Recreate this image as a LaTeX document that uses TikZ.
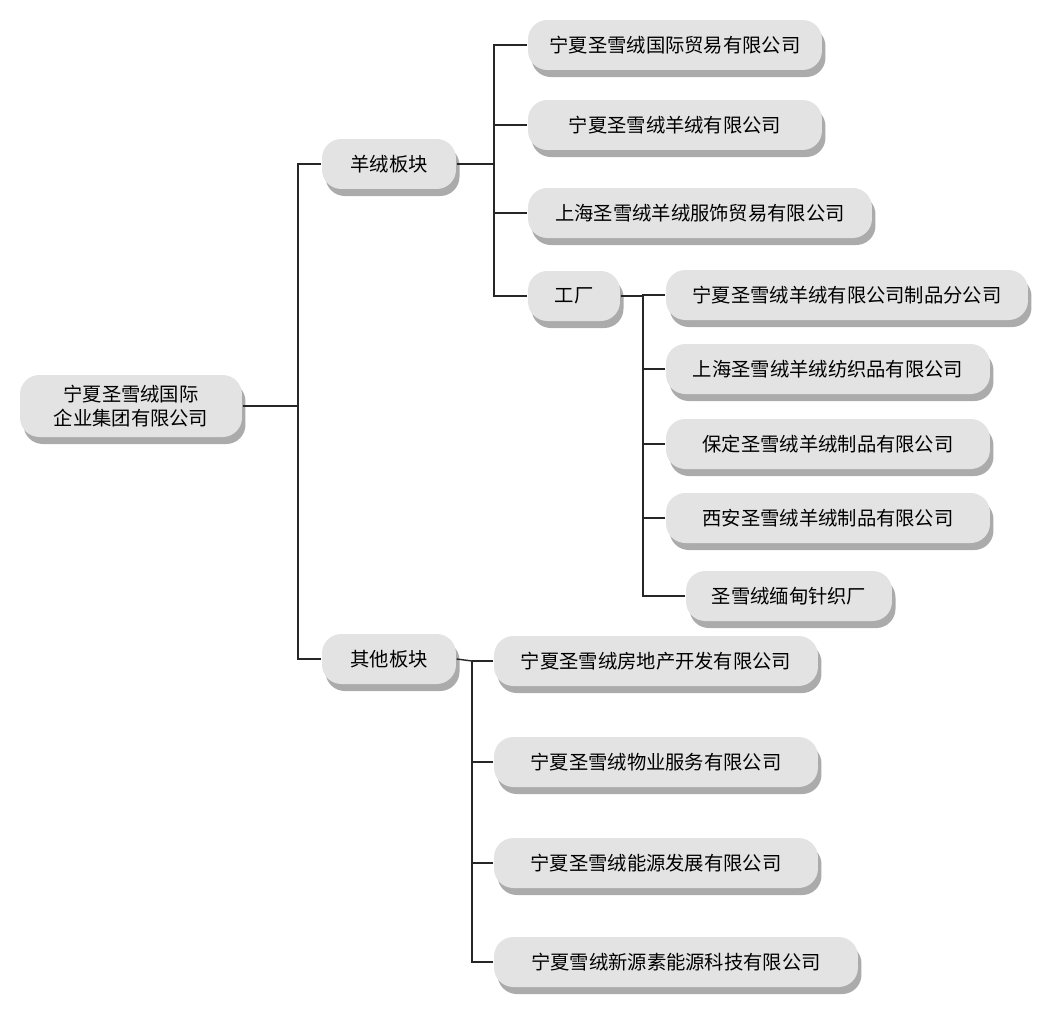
\documentclass[tikz,border=0pt]{standalone}
\usepackage{fontspec}
\setmainfont{Noto Sans CJK SC}
\usetikzlibrary{shadows}

\begin{document}
\begin{tikzpicture}[x=0.02cm, y=-0.02cm, thick,
    box/.style = {rounded corners=11pt, fill=gray!22, minimum height=1cm, inner sep=2pt,
        font=\fontsize{11pt}{14pt}\selectfont, align=center,
        drop shadow={shadow xshift=2pt, shadow yshift=-4pt, fill=black!55, opacity=0.6}},
    link/.style = {draw=black!85, line width=0.8pt}]
    \useasboundingbox (0,0) rectangle (1051,1011);
    % Nodes

    \node[box, minimum width=4.44cm, minimum height=1.24cm] (root) at (131,406) {宁夏圣雪绒国际\\企业集团有限公司};

    \node[box, minimum width=2.68cm] (wool) at (389,164) {羊绒板块};
    \node[box, minimum width=2.68cm] (other) at (389,659) {其他板块};

    \node[box, minimum width=5.88cm] (w1) at (675,45) {宁夏圣雪绒国际贸易有限公司};
    \node[box, minimum width=5.88cm] (w2) at (675,125) {宁夏圣雪绒羊绒有限公司};
    \node[box, minimum width=6.88cm] (w3) at (700,213) {上海圣雪绒羊绒服饰贸易有限公司};
    \node[box, minimum width=1.84cm] (fac) at (574,296) {工厂};

    \node[box, minimum width=7.24cm] (f1) at (847,295) {宁夏圣雪绒羊绒有限公司制品分公司};
    \node[box, minimum width=6.48cm] (f2) at (828,369) {上海圣雪绒羊绒纺织品有限公司};
    \node[box, minimum width=6.48cm] (f3) at (828,444) {保定圣雪绒羊绒制品有限公司};
    \node[box, minimum width=6.48cm] (f4) at (828,518) {西安圣雪绒羊绒制品有限公司};
    \node[box, minimum width=4.12cm] (f5) at (789,596) {圣雪绒缅甸针织厂};

    \node[box, minimum width=6.48cm] (o1) at (656,661) {宁夏圣雪绒房地产开发有限公司};
    \node[box, minimum width=6.48cm] (o2) at (656,762) {宁夏圣雪绒物业服务有限公司};
    \node[box, minimum width=6.48cm] (o3) at (656,863) {宁夏圣雪绒能源发展有限公司};
    \node[box, minimum width=7.28cm] (o4) at (676,962) {宁夏雪绒新源素能源科技有限公司};

    % Edges

    \draw[link] (root.east) -- (298,406);
    \foreach \t in {wool, other}
        \draw[link] (\t.west) -| (298,406);

    \draw[link] (wool.east) -- (494,164);
    \foreach \t in {w1, w2, w3, fac}
        \draw[link] (\t.west) -| (494,164);

    \draw[link] (fac.east) -- (643,296);
    \foreach \t in {f1, f2, f3, f4, f5}
        \draw[link] (\t.west) -| (643,296);

    \draw[link] (other.east) -- (472,661);
    \foreach \t in {o1, o2, o3, o4}
        \draw[link] (\t.west) -| (472,661);

\end{tikzpicture}
\end{document}
